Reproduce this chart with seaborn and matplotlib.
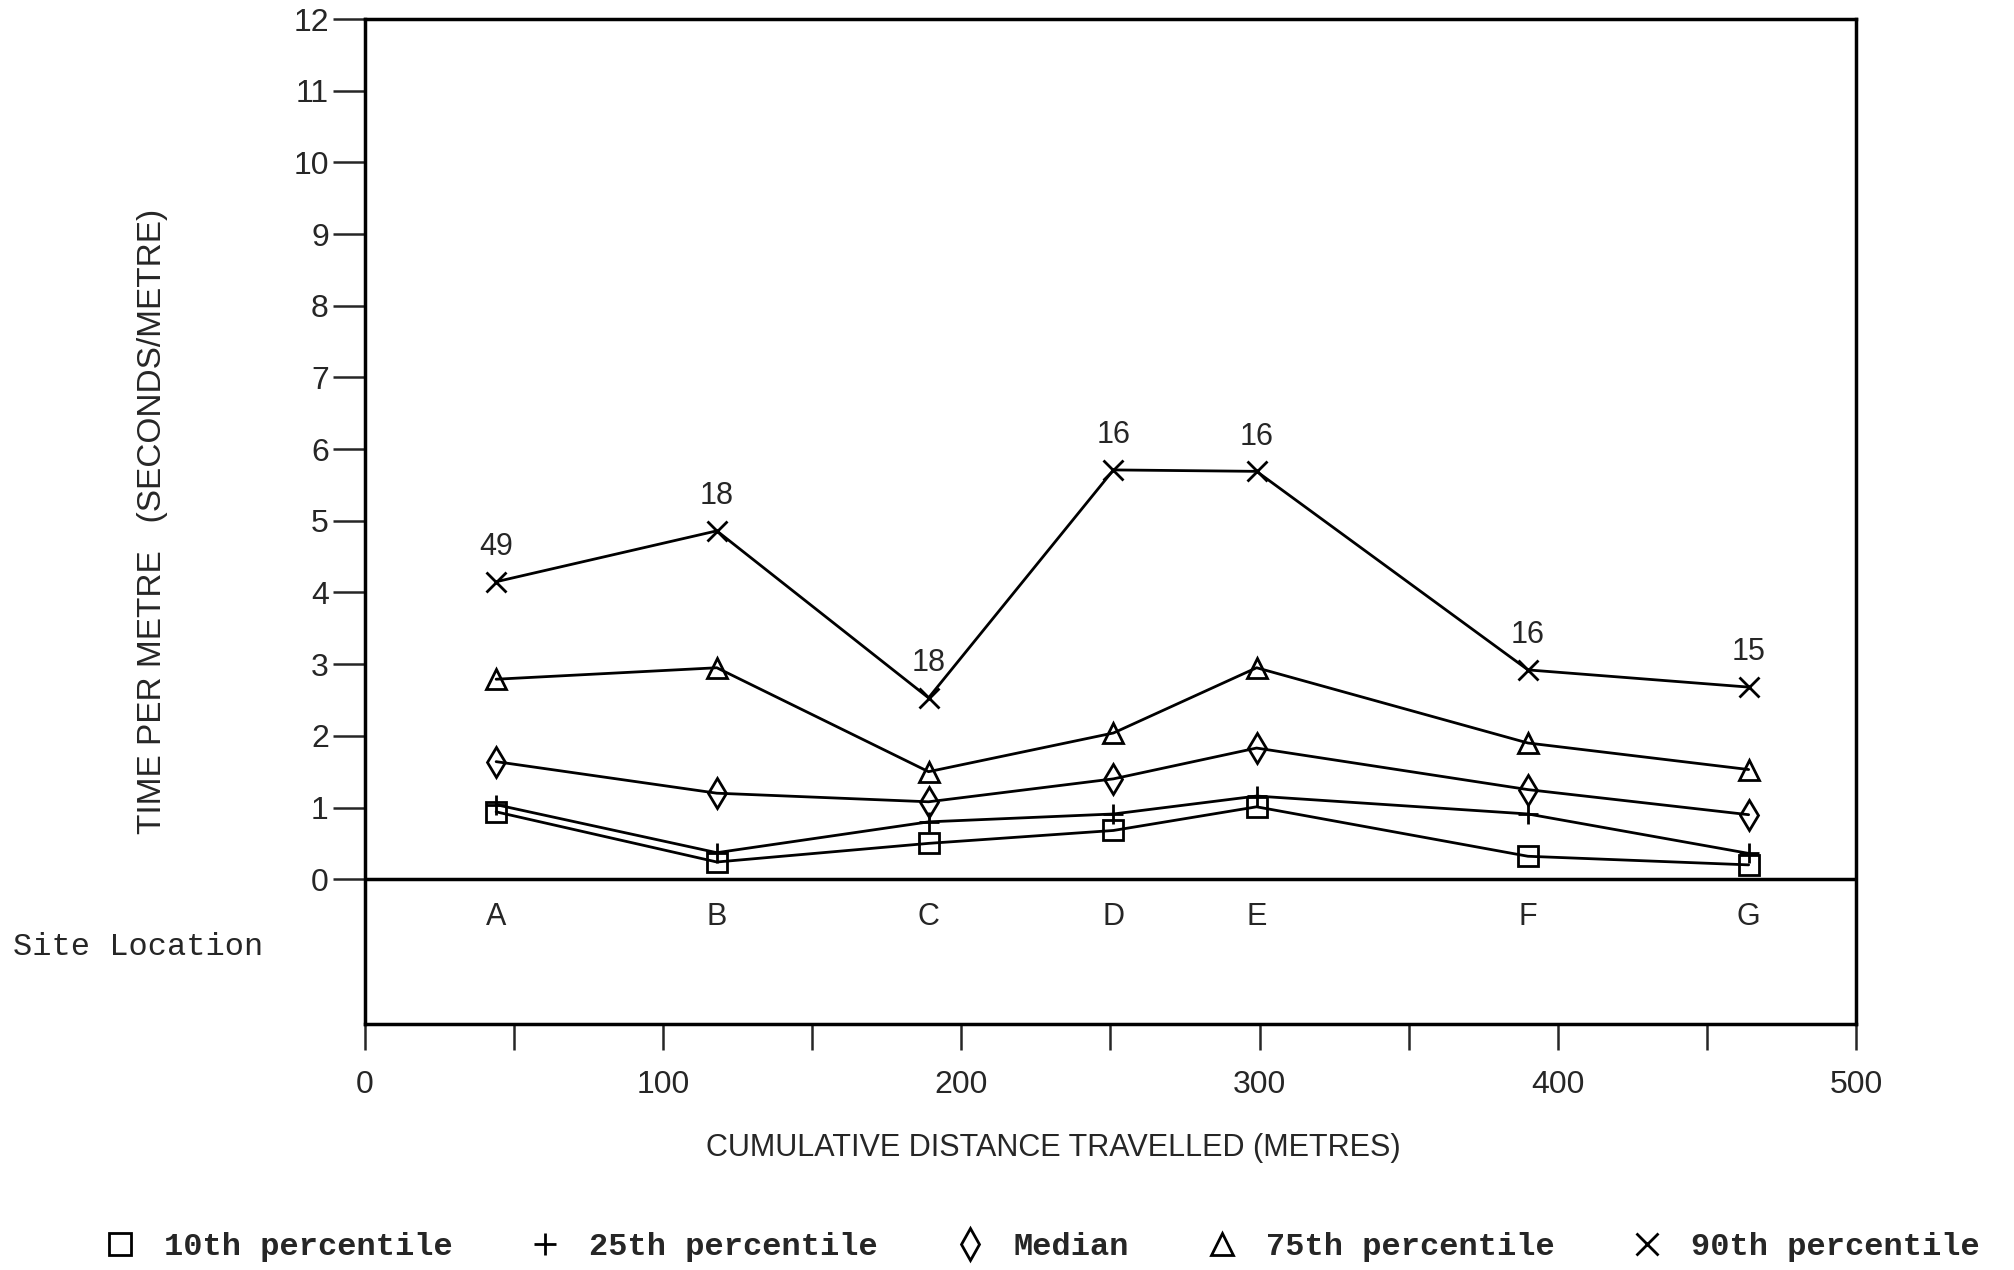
import matplotlib
matplotlib.use("Agg")
import matplotlib.pyplot as plt
from matplotlib.lines import Line2D
from matplotlib.ticker import MultipleLocator
import seaborn as sns

# data
sites = ["A", "B", "C", "D", "E", "F", "G"]
distance = [44, 118, 189, 251, 299, 390, 464]
p10 = [0.94, 0.24, 0.50, 0.68, 1.01, 0.32, 0.20]
p25 = [1.04, 0.37, 0.80, 0.91, 1.16, 0.91, 0.36]
median = [1.64, 1.20, 1.08, 1.40, 1.83, 1.25, 0.90]
p75 = [2.79, 2.95, 1.50, 2.04, 2.95, 1.90, 1.53]
p90 = [4.15, 4.86, 2.53, 5.71, 5.69, 2.92, 2.68]
sample_sizes = ["49", "18", "18", "16", "16", "16", "15"]

series_names = ["10th percentile", "25th percentile", "Median",
                "75th percentile", "90th percentile"]
series_values = [p10, p25, median, p75, p90]
series_markers = ["s", "+", "d", "^", "x"]

sns.set_style("ticks")
plt.rcParams["font.family"] = ["Liberation Sans", "DejaVu Sans"]
mono = ["Liberation Mono", "DejaVu Sans Mono"]

fig = plt.figure(figsize=(20.15, 12.7), dpi=100)
ax = fig.add_axes([0.1811, 0.1937, 0.7400, 0.7913])

for name, vals, m in zip(series_names, series_values, series_markers):
    sns.lineplot(x=distance, y=vals, ax=ax, color="black", linewidth=2,
                 marker=m, markersize=15, markeredgecolor="black",
                 markerfacecolor="none", markeredgewidth=2, label=name,
                 legend=False)

# sample size labels above the 90th percentile points
for x, y, n in zip(distance, p90, sample_sizes):
    ax.annotate(n, (x, y), xytext=(0, 25), textcoords="offset points",
                ha="center", va="center", fontsize=22)

# site letters in the band under the zero line
for x, s in zip(distance, sites):
    ax.text(x, -0.53, s, ha="center", va="center", fontsize=22)

ax.axhline(0, color="black", linewidth=2.5)

ax.set_xlim(0, 500)
ax.set_ylim(-2.02, 12)
ax.set_xticks([0, 100, 200, 300, 400, 500])
ax.xaxis.set_minor_locator(MultipleLocator(50))
ax.set_yticks(range(0, 13))
ax.tick_params(axis="x", which="both", direction="out", length=19, width=1.8,
               pad=14, labelsize=23)
ax.tick_params(axis="y", direction="out", length=23, width=1.8, pad=3,
               labelsize=23)

for sp in ax.spines.values():
    sp.set_visible(True)
    sp.set_linewidth(2.5)
    sp.set_color("black")

ax.set_xlabel("CUMULATIVE DISTANCE TRAVELLED (METRES)", fontsize=22)
ax.xaxis.set_label_coords(0.462, -0.108)
ax.set_ylabel("TIME PER METRE   (SECONDS/METRE)", fontsize=24)
ax.yaxis.set_label_coords(-0.132, 0.5)

fig.text(0.0065, 0.2543, "Site Location", ha="left", va="center",
         fontsize=23, family=mono)

handles = [Line2D([], [], marker=m, linestyle="none", color="black",
                  markerfacecolor="none", markersize=16, markeredgewidth=2)
           for m in series_markers]
fig.legend(handles, series_names, loc="center", bbox_to_anchor=(0.517, 0.018),
           ncol=5, frameon=False, handlelength=1, handletextpad=0.87,
           columnspacing=2.4,
           prop={"family": mono, "weight": "bold", "size": 23})

fig.savefig("out.png", dpi=100)
